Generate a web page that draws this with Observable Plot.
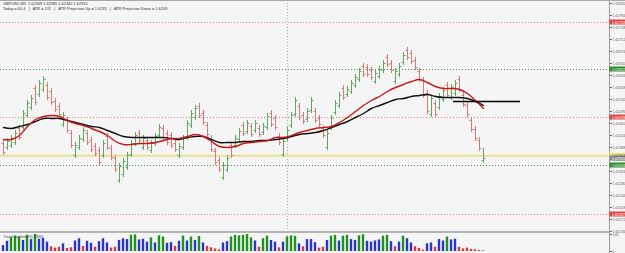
<!DOCTYPE html>
<html><head><meta charset="utf-8">
<script src="https://cdn.jsdelivr.net/npm/d3@7"></script>
<script src="https://cdn.jsdelivr.net/npm/@observablehq/plot@0.6"></script>
<style>
body{margin:0;background:#f5f5f5;width:625px;height:253px;overflow:hidden;font-family:"Liberation Sans",Arial,sans-serif}
#wrap{position:relative;width:625px;height:253px}
#price,#vol{position:absolute;left:0}
#price{top:0}#vol{top:232px}
#hdr{position:absolute;left:3px;top:1px;font-size:3.9px;line-height:5px;color:#333;white-space:pre}
#topline{position:absolute;left:0;top:0;width:625px;height:1px;background:#a8a8a8}
#sep{position:absolute;left:0;top:231px;width:609px;height:2px;background:#b4b4b4}
</style></head><body>
<div id="wrap"><div id="price"></div><div id="vol"></div><div id="topline"></div><div id="sep"></div><div id="hdr"></div></div>
<script>
const headerLines = ["GBPUSD,M5  1.62349 1.62385 1.62340 1.62355",
 "Today = 60.4   |   ATR = 131   |   ATR Projection Up = 1.6235   |   ATR Projection Down = 1.6209"];
const volLabel = "Trend Confirm(20)  1833";

const open = [1.62400,1.62388,1.62394,1.62403,1.62445,1.62448,1.62484,1.62508,1.62565,1.62547,
1.62562,1.62574,1.62556,1.62526,1.62511,1.62457,1.62469,1.62430,1.62364,1.62388,
1.62412,1.62430,1.62409,1.62391,1.62379,1.62364,1.62421,1.62385,1.62355,1.62289,
1.62307,1.62328,1.62367,1.62400,1.62430,1.62388,1.62409,1.62379,1.62400,1.62424,
1.62445,1.62430,1.62424,1.62400,1.62364,1.62388,1.62418,1.62454,1.62478,1.62511,
1.62490,1.62454,1.62415,1.62376,1.62349,1.62298,1.62322,1.62394,1.62394,1.62412,
1.62454,1.62436,1.62451,1.62439,1.62445,1.62433,1.62448,1.62490,1.62475,1.62421,
1.62367,1.62415,1.62454,1.62487,1.62511,1.62484,1.62472,1.62499,1.62496,1.62475,
1.62445,1.62388,1.62448,1.62493,1.62514,1.62565,1.62547,1.62556,1.62574,1.62592,
1.62631,1.62628,1.62619,1.62586,1.62601,1.62619,1.62658,1.62640,1.62586,1.62607,
1.62643,1.62679,1.62670,1.62649,1.62616,1.62589,1.62550,1.62487,1.62520,1.62508,
1.62532,1.62574,1.62538,1.62550,1.62592,1.62544,1.62514,1.62469,1.62442,1.62409,
1.62349];
const high = [1.62409,1.62415,1.62424,1.62439,1.62454,1.62499,1.62529,1.62544,1.62574,1.62589,
1.62601,1.62583,1.62565,1.62535,1.62520,1.62493,1.62478,1.62439,1.62403,1.62424,
1.62448,1.62439,1.62418,1.62400,1.62388,1.62409,1.62430,1.62394,1.62364,1.62340,
1.62355,1.62373,1.62409,1.62433,1.62439,1.62424,1.62418,1.62409,1.62430,1.62457,
1.62454,1.62439,1.62433,1.62409,1.62400,1.62424,1.62469,1.62499,1.62514,1.62520,
1.62499,1.62463,1.62424,1.62385,1.62358,1.62343,1.62364,1.62403,1.62424,1.62445,
1.62463,1.62469,1.62460,1.62469,1.62454,1.62460,1.62490,1.62499,1.62484,1.62430,
1.62415,1.62448,1.62493,1.62538,1.62520,1.62493,1.62505,1.62538,1.62505,1.62484,
1.62454,1.62439,1.62484,1.62529,1.62553,1.62574,1.62571,1.62589,1.62607,1.62625,
1.62640,1.62637,1.62628,1.62619,1.62631,1.62649,1.62667,1.62649,1.62625,1.62640,
1.62673,1.62688,1.62679,1.62658,1.62625,1.62598,1.62559,1.62544,1.62529,1.62550,
1.62568,1.62583,1.62577,1.62589,1.62601,1.62553,1.62523,1.62478,1.62451,1.62418,
1.62385];
const low = [1.62364,1.62379,1.62385,1.62394,1.62409,1.62439,1.62475,1.62499,1.62514,1.62538,
1.62553,1.62529,1.62514,1.62493,1.62478,1.62448,1.62430,1.62385,1.62355,1.62379,
1.62403,1.62394,1.62373,1.62361,1.62334,1.62355,1.62379,1.62349,1.62313,1.62280,
1.62298,1.62319,1.62358,1.62391,1.62400,1.62379,1.62379,1.62370,1.62391,1.62415,
1.62409,1.62394,1.62385,1.62373,1.62355,1.62379,1.62409,1.62445,1.62469,1.62475,
1.62454,1.62418,1.62373,1.62334,1.62313,1.62289,1.62313,1.62355,1.62385,1.62403,
1.62421,1.62427,1.62418,1.62430,1.62418,1.62424,1.62439,1.62448,1.62439,1.62394,
1.62358,1.62406,1.62445,1.62478,1.62469,1.62457,1.62463,1.62490,1.62460,1.62448,
1.62415,1.62379,1.62439,1.62484,1.62505,1.62529,1.62538,1.62547,1.62565,1.62583,
1.62598,1.62598,1.62589,1.62577,1.62592,1.62610,1.62628,1.62610,1.62577,1.62598,
1.62634,1.62649,1.62637,1.62619,1.62583,1.62535,1.62487,1.62478,1.62478,1.62499,
1.62523,1.62535,1.62529,1.62541,1.62553,1.62508,1.62478,1.62433,1.62406,1.62376,
1.62340];
const close = [1.62373,1.62406,1.62415,1.62430,1.62418,1.62490,1.62520,1.62535,1.62523,1.62580,
1.62592,1.62538,1.62523,1.62502,1.62487,1.62484,1.62439,1.62394,1.62394,1.62415,
1.62439,1.62403,1.62382,1.62370,1.62343,1.62400,1.62388,1.62358,1.62322,1.62331,
1.62346,1.62364,1.62400,1.62424,1.62409,1.62415,1.62388,1.62400,1.62421,1.62448,
1.62418,1.62403,1.62394,1.62382,1.62391,1.62415,1.62460,1.62490,1.62505,1.62484,
1.62463,1.62427,1.62382,1.62343,1.62322,1.62334,1.62355,1.62364,1.62415,1.62436,
1.62430,1.62460,1.62427,1.62460,1.62427,1.62451,1.62481,1.62457,1.62448,1.62403,
1.62406,1.62439,1.62484,1.62529,1.62478,1.62466,1.62496,1.62529,1.62469,1.62457,
1.62424,1.62430,1.62475,1.62520,1.62544,1.62538,1.62562,1.62580,1.62598,1.62616,
1.62607,1.62607,1.62598,1.62610,1.62622,1.62640,1.62637,1.62619,1.62616,1.62631,
1.62664,1.62658,1.62646,1.62628,1.62592,1.62544,1.62496,1.62535,1.62487,1.62541,
1.62559,1.62544,1.62568,1.62580,1.62562,1.62517,1.62487,1.62442,1.62415,1.62385,
1.62355];

// moving averages sampled every 2 bars (bar 0,2,4,...,120)
const maRed = [1.62412,1.62412,1.62424,1.62451,1.62472,1.62481,1.62484,1.62481,1.62469,1.62460,
1.62454,1.62445,1.62436,1.62424,1.62406,1.62397,1.62397,1.62400,1.62400,1.62403,
1.62409,1.62415,1.62415,1.62421,1.62427,1.62421,1.62406,1.62391,1.62388,1.62391,
1.62400,1.62403,1.62406,1.62409,1.62418,1.62418,1.62424,1.62433,1.62439,1.62445,
1.62448,1.62451,1.62463,1.62478,1.62496,1.62514,1.62529,1.62541,1.62556,1.62568,
1.62577,1.62586,1.62592,1.62583,1.62571,1.62565,1.62565,1.62562,1.62550,1.62529,1.62505];
const maBlack = [1.62448,1.62445,1.62451,1.62457,1.62466,1.62475,1.62475,1.62475,1.62469,1.62463,
1.62457,1.62451,1.62448,1.62439,1.62430,1.62421,1.62418,1.62418,1.62418,1.62418,
1.62418,1.62415,1.62412,1.62418,1.62421,1.62421,1.62412,1.62403,1.62403,1.62403,
1.62406,1.62406,1.62409,1.62409,1.62412,1.62415,1.62421,1.62427,1.62430,1.62433,
1.62439,1.62448,1.62457,1.62466,1.62478,1.62490,1.62505,1.62514,1.62523,1.62532,
1.62535,1.62541,1.62544,1.62547,1.62541,1.62538,1.62538,1.62538,1.62535,1.62526,1.62514];

const volume = [35,60,80,90,85,65,95,70,100,72, 78,55,28,20,25,45,18,22,62,75,
30,60,48,25,58,75,50,20,25,65, 75,70,95,98,68,72,55,80,50,92,
85,48,52,30,60,90,62,85,65,88, 50,30,22,15,10,50,58,85,95,92,
95,100,80,62,25,75,90,65,55,22, 55,85,92,88,45,28,70,70,52,20,
25,65,90,95,62,90,95,70,65,92, 98,60,55,62,68,90,95,58,28,55,
90,75,50,28,18,8,45,50,25,70, 62,85,68,72,25,15,20,12,10,6, 4];
const volClass = ("B B G G G B G B G B  B B R R R B R R B B  R B B R B B B R R B  B B G G B B B G B G  " +
 "G B B R B G B G B G  B R R R R B B G G G  G G G B R G G B B R  B G G G B R B B B R  " +
 "R B G G B G G B B G  G B B B B G G B R B  G B B R R R B B R B  B G B B R R R R R R  R").trim().split(/\s+/);

const priceTicks = [1.62820,1.62784,1.62748,1.62712,1.62676,1.62640,1.62604,1.62568,1.62532,1.62496,
1.62460,1.62424,1.62388,1.62352,1.62316,1.62280,1.62244,1.62208,1.62172,1.62136];
const levelPrices = [1.62763, 1.62622, 1.62478, 1.62334, 1.62187];
const levelKinds  = ["red", "green", "red", "green", "red"];
const yellowLevel = 1.62363;
const segPrice = 1.62526, segStart = 112.5, segEnd = 129.25;
const sessionBar = 71;
const volTicks = [0, 100];

const C = {
  up: "#5fa95f", dn: "#d97a7a",
  red: "#d97a7a", green: "#3d8a3d",
  redBox: "#e04848", greenBox: "#2e8b2e",
  G: "#1f8f1f", B: "#2a36c8", R: "#dc3a3a"
};

document.getElementById("hdr").textContent = headerLines.join("\n");

const bars = open.map((o, i) => ({i, o, h: high[i], l: low[i], c: close[i], col: close[i] >= o ? C.up : C.dn}));
const redPts = maRed.map((v, k) => ({x: k * 2, v}));
const blackPts = maBlack.map((v, k) => ({x: k * 2, v}));
const levels = levelPrices.map((p, k) => ({p, stroke: C[levelKinds[k]], box: levelKinds[k] === "red" ? C.redBox : C.greenBox, txt: "#fff"}));
const lastClose = close[close.length - 1];
const boxes = [...levels,
  {p: yellowLevel, box: "#efe37a", txt: "#555"},
  {p: lastClose, box: "#8a8a8a", txt: "#fff"}];

const xScale = {domain: [-0.75, 151.5], axis: null};
const common = {width: 625, marginLeft: 0, marginRight: 16, marginTop: 0, marginBottom: 0,
  style: {background: "transparent", fontFamily: "Liberation Sans, Arial, sans-serif", overflow: "visible"},
  color: {type: "identity"}};

const price = Plot.plot({
  ...common, height: 232,
  x: xScale,
  y: {domain: [1.62133, 1.62829], axis: null},
  marks: [
    Plot.ruleX([sessionBar], {stroke: "#a6a6a6", strokeDasharray: "1,2"}),
    Plot.ruleY(levels, {y: "p", stroke: "stroke", strokeDasharray: "1,2"}),
    Plot.ruleY([yellowLevel], {stroke: "#ebe08c", strokeWidth: 2}),
    Plot.ruleX(bars, {x: "i", y1: "l", y2: "h", stroke: "col"}),
    Plot.link(bars, {x1: d => d.i - 0.5, x2: "i", y1: "o", y2: "o", stroke: "col"}),
    Plot.link(bars, {x1: "i", x2: d => d.i + 0.5, y1: "c", y2: "c", stroke: "col"}),
    Plot.line(blackPts, {x: "x", y: "v", stroke: "#111", strokeWidth: 1.4, curve: "catmull-rom"}),
    Plot.line(redPts, {x: "x", y: "v", stroke: "#c81818", strokeWidth: 1.4, curve: "catmull-rom"}),
    Plot.ruleY([segPrice], {x1: segStart, x2: segEnd, stroke: "#000", strokeWidth: 1.6}),
    Plot.ruleX([151.5], {stroke: "#9a9a9a"}),
    Plot.axisY(priceTicks, {anchor: "right", tickSize: 2, tickPadding: 1, fontSize: 3.6, color: "#666",
      tickFormat: d => d.toFixed(5), label: null}),
    Plot.rect(boxes, {x1: 151.6, x2: 156, y1: d => d.p - 0.000075, y2: d => d.p + 0.000075, fill: "box"}),
    Plot.text(boxes, {x: 151.9, y: "p", text: d => d.p.toFixed(5), fill: "txt", fontSize: 3.6, textAnchor: "start", dx: 1})
  ]
});
document.getElementById("price").append(price);

const vols = volume.map((v, i) => ({i, v, col: C[volClass[i]]}));
const vol = Plot.plot({
  ...common, height: 21,
  x: xScale,
  y: {domain: [-11.76, 111.76], axis: null},
  marks: [
    Plot.ruleX([sessionBar], {stroke: "#a6a6a6", strokeDasharray: "1,2"}),
    Plot.rectY(vols, {x1: d => d.i - 0.3, x2: d => d.i + 0.3, y1: 0, y2: "v", fill: "col"}),
    Plot.ruleX([151.5], {stroke: "#9a9a9a"}),
    Plot.axisY(volTicks, {anchor: "right", tickSize: 2, tickPadding: 1, fontSize: 3.6, color: "#666", label: null}),
    Plot.text([volLabel], {frameAnchor: "top-left", dx: 3, dy: 2.5, fontSize: 3.6, fill: "#444", textAnchor: "start"})
  ]
});
document.getElementById("vol").append(vol);
</script>
</body></html>
